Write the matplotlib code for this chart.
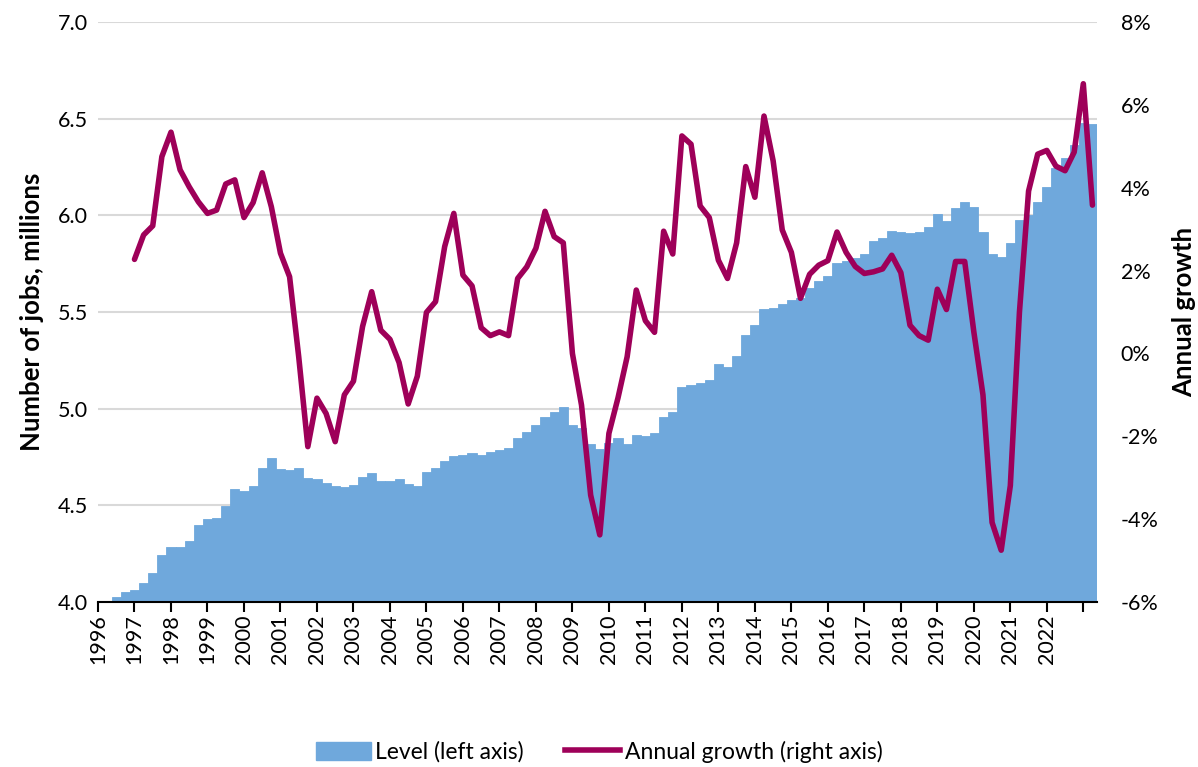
import matplotlib
matplotlib.use("Agg")
import matplotlib.pyplot as plt
import numpy as np
from matplotlib.patches import Patch
from matplotlib.lines import Line2D

plt.rcParams['font.family'] = ['Lato', 'DejaVu Sans']

# Quarterly categories 1996Q1 .. 2023Q2
quarters = [f"{y}Q{q}" for y in range(1996, 2024) for q in range(1, 5)][:110]

# Number of jobs, millions (left axis)
level = [4.003, 4.006, 4.024, 4.050, 4.064, 4.100, 4.148, 4.241, 4.283, 4.284,
         4.317, 4.397, 4.429, 4.434, 4.497, 4.583, 4.574, 4.598, 4.692, 4.747,
         4.688, 4.683, 4.695, 4.641, 4.636, 4.616, 4.598, 4.597, 4.607, 4.645,
         4.666, 4.624, 4.624, 4.635, 4.610, 4.598, 4.673, 4.692, 4.729, 4.754,
         4.759, 4.771, 4.759, 4.776, 4.788, 4.795, 4.847, 4.878, 4.913, 4.958,
         4.984, 5.010, 4.915, 4.898, 4.817, 4.791, 4.821, 4.847, 4.816, 4.864,
         4.859, 4.876, 4.955, 4.981, 5.114, 5.121, 5.131, 5.147, 5.229, 5.216,
         5.274, 5.380, 5.431, 5.514, 5.520, 5.541, 5.560, 5.575, 5.623, 5.660,
         5.688, 5.756, 5.765, 5.781, 5.800, 5.867, 5.882, 5.919, 5.915, 5.911,
         5.915, 5.940, 6.007, 5.972, 6.039, 6.071, 6.043, 5.915, 5.800, 5.785,
         5.857, 5.976, 6.000, 6.068, 6.145, 6.246, 6.294, 6.365, 6.480, 6.474]

# Annual growth, % (right axis), from 1997Q1
growth_start = "1997Q1"
growth = [2.27, 2.86, 3.08, 4.75, 5.34, 4.43, 4.02, 3.66, 3.38, 3.46,
          4.09, 4.19, 3.28, 3.64, 4.36, 3.54, 2.42, 1.85, -0.08, -2.25,
          -1.08, -1.45, -2.13, -1.00, -0.67, 0.65, 1.49, 0.56, 0.34, -0.22,
          -1.22, -0.55, 0.99, 1.25, 2.58, 3.38, 1.89, 1.63, 0.62, 0.43,
          0.52, 0.43, 1.81, 2.09, 2.54, 3.43, 2.82, 2.67, 0.00, -1.25,
          -3.42, -4.38, -1.93, -1.07, -0.08, 1.53, 0.79, 0.51, 2.95, 2.40,
          5.25, 5.05, 3.56, 3.28, 2.25, 1.81, 2.67, 4.51, 3.77, 5.73,
          4.65, 2.98, 2.44, 1.33, 1.91, 2.13, 2.24, 2.93, 2.44, 2.10,
          1.93, 1.97, 2.04, 2.37, 1.95, 0.68, 0.43, 0.32, 1.55, 1.06,
          2.22, 2.22, 0.52, -1.00, -4.08, -4.75, -3.19, 1.00, 3.92, 4.81,
          4.90, 4.52, 4.41, 4.86, 6.51, 3.58]

year_labels = [str(y) for y in range(1996, 2023)] + [""]
left_ticks = [4.0, 4.5, 5.0, 5.5, 6.0, 6.5, 7.0]
right_ticks = [-6, -4, -2, 0, 2, 4, 6, 8]

BAR_COLOR = "#6fa8dc"
LINE_COLOR = "#9e0059"
FS = 15.5

fig = plt.figure(figsize=(11.98, 7.67), dpi=100)
ax = fig.add_axes([98/1198, 1 - 602/767, (1097-98)/1198, (602-22)/767])

x = np.arange(len(quarters))
ax.bar(x, level, width=1.0, color=BAR_COLOR, edgecolor=BAR_COLOR, linewidth=0.6, zorder=2)
ax.set_ylim(4.0, 7.0)
ax.set_xlim(0, 109.5)
ax.set_yticks(left_ticks)
ax.set_yticklabels([f"{v:.1f}" for v in left_ticks], fontsize=FS)
ax.grid(axis='y', color='#d9d9d9', linewidth=1.5, zorder=0)
ax.set_axisbelow(True)
ax.tick_params(axis='y', length=0, pad=7)

xt = x[::4]
ax.set_xticks(xt)
ax.set_xticklabels(year_labels, rotation=90, fontsize=FS)
ax.tick_params(axis='x', length=7, width=1.5, color='black', pad=2)

for s in ['top', 'right', 'left']:
    ax.spines[s].set_visible(False)
ax.spines['bottom'].set_linewidth(1.5)
ax.spines['bottom'].set_color('black')
ax.spines['bottom'].set_zorder(5)

ax.set_ylabel("Number of jobs, millions", fontsize=18.5, fontweight='bold', labelpad=10)

ax2 = ax.twinx()
gstart = quarters.index(growth_start)
gx = x[gstart:gstart + len(growth)]
ax2.plot(gx, growth, color=LINE_COLOR, linewidth=4.0, solid_joinstyle='round',
         solid_capstyle='round', zorder=4)
ax2.set_ylim(-6, 8)
ax2.set_yticks(right_ticks)
ax2.set_yticklabels([f"{v}%" for v in right_ticks], fontsize=FS)
ax2.tick_params(axis='y', length=0, pad=17)
for s in ['top', 'right', 'left', 'bottom']:
    ax2.spines[s].set_visible(False)
ax2.set_ylabel("Annual growth", fontsize=18.5, fontweight='bold', labelpad=10)

handles = [Patch(facecolor=BAR_COLOR, edgecolor=BAR_COLOR),
           Line2D([0], [0], color=LINE_COLOR, linewidth=4.0)]
fig.legend(handles, ["Level (left axis)", "Annual growth (right axis)"],
           loc='center', bbox_to_anchor=(0.5, 0.02), ncol=2, frameon=False,
           fontsize=16.5, handlelength=2.4, handleheight=0.8, handletextpad=0.2,
           columnspacing=1.8)

fig.savefig("out.png", dpi=100)
